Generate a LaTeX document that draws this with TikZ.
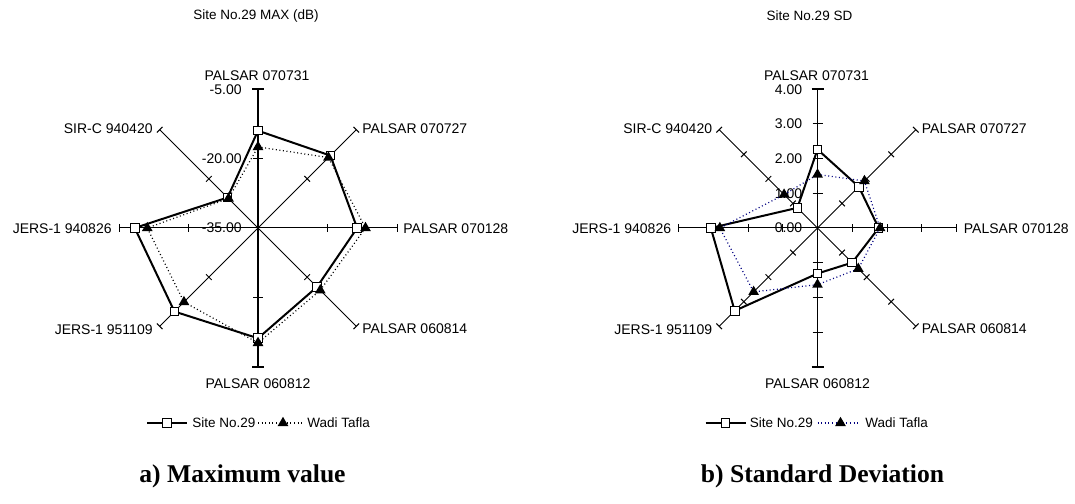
\documentclass[tikz,border=0pt]{standalone}
\usepackage{fontspec}
\setmainfont{Liberation Sans}
\newfontfamily\capfont{Liberation Serif}
\usetikzlibrary{shapes.geometric}
\definecolor{wadiblu}{RGB}{0,0,128}

\begin{document}
\begin{tikzpicture}[
    x=0.5pt, y=0.5pt,
    spoke/.style={line width=0.5pt},
    valaxis/.style={line width=0.6pt},
    lbl/.style={font=\fontsize{7}{8}\selectfont, inner sep=0pt},
    small/.style={font=\fontsize{6.75}{8}\selectfont, inner sep=0pt},
    caption/.style={font=\capfont\bfseries\fontsize{12.8}{15}\selectfont, inner sep=0pt},
    siteline/.style={line width=1pt},
    wadiline/.style={line width=0.6pt, dash pattern=on 0.5pt off 1.3pt},
    sq/.style={rectangle, draw=black, fill=white, line width=0.5pt, minimum size=4.3pt, inner sep=0pt},
    tri/.style={regular polygon, regular polygon sides=3, fill=black, minimum size=6.2pt, inner sep=0pt}
]
\path[use as bounding box] (0,0) rectangle (1075,503);

% Grafico a) MAX
\begin{scope}[shift={(258,275)}]
\node[small] (titA) at (-2,212) {Site No.29 MAX (dB)};

% Assi
\foreach \a in {45,0,-45,-135,180,135}
  \draw[spoke, rotate=\a] (0,0) -- (139,0) (139,-4) -- (139,4) (69.5,-4) -- (69.5,4);
\draw[valaxis] (0,-139) -- (0,139) (-6,139) -- (6,139) (-5,69.5) -- (5,69.5)
  (-6,-139) -- (6,-139) (-5,-69.5) -- (5,-69.5);
\node[lbl, anchor=east] (amax) at (-16,138) {-5.00};
\node[lbl, anchor=east] (amid) at (-16,69.5) {-20.00};
\node[lbl, anchor=east] (amin) at (-16,0) {-35.00};

% Etichette categorie
\node[lbl] (a070731) at (-1,152) {PALSAR 070731};
\node[lbl, anchor=west] (a070727) at (104,99) {PALSAR 070727};
\node[lbl, anchor=west] (a070128) at (145,-1) {PALSAR 070128};
\node[lbl, anchor=west] (a060814) at (104,-101) {PALSAR 060814};
\node[lbl] (a060812) at (0,-156) {PALSAR 060812};
\node[lbl, anchor=east] (a951109) at (-105,-102) {JERS-1 951109};
\node[lbl, anchor=east] (a940826) at (-146,-1) {JERS-1 940826};
\node[lbl, anchor=east] (a940420) at (-105,99) {SIR-C 940420};

% Dati
\foreach \v [count=\i] in {-14.0,-12.9,-13.6,-17.0,-11.2,-9.5,-8.4,-25.7}
  \coordinate (as\i) at ({90-45*(\i-1)}:{(\v+35)*139/30});
\foreach \v [count=\i] in {-17.5,-13.5,-11.8,-16.0,-10.2,-12.4,-11.1,-26.0}
  \coordinate (aw\i) at ({90-45*(\i-1)}:{(\v+35)*139/30});
\draw[siteline] (as1) -- (as2) -- (as3) -- (as4) -- (as5) -- (as6) -- (as7) -- (as8) -- cycle;
\foreach \i in {1,...,8} \node[sq] (asq\i) at (as\i) {};
\draw[wadiline] (aw1) -- (aw2) -- (aw3) -- (aw4) -- (aw5) -- (aw6) -- (aw7) -- (aw8) -- cycle;
\foreach \i in {1,...,8} \node[tri] (atr\i) at (aw\i) {};

% Legenda
\coordinate (aleg1) at (-111,-195);
\coordinate (aleg2) at (-71,-195);
\coordinate (aleg3) at (0,-195);
\coordinate (aleg4) at (45,-195);
\draw[siteline] (aleg1) -- (aleg2);
\node[sq] (alegsq) at (-91,-195) {};
\node[small, anchor=west] (alegsite) at (-66,-195) {Site No.29};
\draw[wadiline] (aleg3) -- (aleg4);
\node[tri] (alegtri) at (25,-195) {};
\node[small, anchor=west] (alegwadi) at (49,-195) {Wadi Tafla};
\end{scope}

% Grafico b) SD
\begin{scope}[shift={(817.5,275)}]
\node[small] (titB) at (-8,212) {Site No.29 SD};

% Assi
\foreach \a in {45,0,-45,-135,180,135}
  \draw[spoke, rotate=\a] (0,0) -- (139,0) (139,-4) -- (139,4)
    (34.75,-4) -- (34.75,4) (69.5,-4) -- (69.5,4) (104.25,-4) -- (104.25,4);
\draw[valaxis] (0,-139) -- (0,139) (-6,139) -- (6,139) (-6,-139) -- (6,-139);
\foreach \r in {34.75,69.5,104.25}
  \draw[valaxis] (-5,\r) -- (5,\r) (-5,-\r) -- (5,-\r);
\node[lbl, anchor=east] (b4) at (-15,138) {4.00};
\node[lbl, anchor=east] (b3) at (-15,104.25) {3.00};
\node[lbl, anchor=east] (b2) at (-15,69.5) {2.00};
\node[lbl, anchor=east] (b1) at (-15,34.75) {1.00};
\node[lbl, anchor=east] (b0) at (-15,0) {0.00};

% Etichette categorie
\node[lbl] (b070731) at (-1,152) {PALSAR 070731};
\node[lbl, anchor=west] (b070727) at (104,99) {PALSAR 070727};
\node[lbl, anchor=west] (b070128) at (146,-1) {PALSAR 070128};
\node[lbl, anchor=west] (b060814) at (104,-101) {PALSAR 060814};
\node[lbl] (b060812) at (0,-156) {PALSAR 060812};
\node[lbl, anchor=east] (b951109) at (-105,-102) {JERS-1 951109};
\node[lbl, anchor=east] (b940826) at (-146,-1) {JERS-1 940826};
\node[lbl, anchor=east] (b940420) at (-105,99) {SIR-C 940420};

% Dati
\foreach \v [count=\i] in {2.26,1.68,1.76,1.41,1.31,3.37,3.07,0.82}
  \coordinate (bs\i) at ({90-45*(\i-1)}:{\v*139/4});
\foreach \v [count=\i] in {1.54,1.91,1.80,1.66,1.63,2.60,2.81,1.36}
  \coordinate (bw\i) at ({90-45*(\i-1)}:{\v*139/4});
\draw[siteline] (bs1) -- (bs2) -- (bs3) -- (bs4) -- (bs5) -- (bs6) -- (bs7) -- (bs8) -- cycle;
\foreach \i in {1,...,8} \node[sq] (bsq\i) at (bs\i) {};
\draw[wadiline, wadiblu] (bw1) -- (bw2) -- (bw3) -- (bw4) -- (bw5) -- (bw6) -- (bw7) -- (bw8) -- cycle;
\foreach \i in {1,...,8} \node[tri] (btr\i) at (bw\i) {};

% Legenda
\coordinate (bleg1) at (-112,-195);
\coordinate (bleg2) at (-72,-195);
\coordinate (bleg3) at (0,-195);
\coordinate (bleg4) at (43,-195);
\draw[siteline] (bleg1) -- (bleg2);
\node[sq] (blegsq) at (-92,-195) {};
\node[small, anchor=west] (blegsite) at (-68,-195) {Site No.29};
\draw[wadiline, wadiblu] (bleg3) -- (bleg4);
\node[tri] (blegtri) at (23,-195) {};
\node[small, anchor=west] (blegwadi) at (47.5,-195) {Wadi Tafla};
\end{scope}

% Didascalie
\node[caption] (capA) at (242.5,27) {a) Maximum value};
\node[caption] (capB) at (822.5,27) {b) Standard Deviation};

\end{tikzpicture}
\end{document}
